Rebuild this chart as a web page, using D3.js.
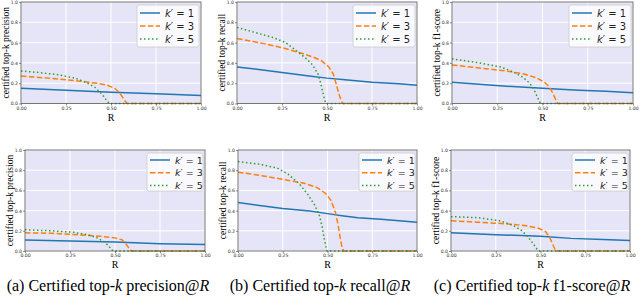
<!DOCTYPE html>
<html>
<head>
<meta charset="utf-8">
<script src="https://d3js.org/d3.v7.min.js"></script>
<style>
  body { margin: 0; background: #fff; }
  svg { display: block; }
  .serif { font-family: "Liberation Serif", "DejaVu Serif", serif; }
  .sans { font-family: "DejaVu Sans", sans-serif; }
</style>
</head>
<body>
<svg id="chart" width="640" height="296"></svg>
<script>
// tick labels
var xTicks = [0, 0.25, 0.5, 0.75, 1.0]
var yTicks = [0, 0.2, 0.4, 0.6, 0.8, 1.0]
var legendLabels = ["1", "3", "5"]
var captions = [["(a) Certified top-", "k", " precision@", "R"],
                ["(b) Certified top-", "k", " recall@", "R"],
                ["(c) Certified top-", "k", " f1-score@", "R"]]
var yLabels = ["certified top-k precision", "certified top-k recall", "certified top-k f1-score"]

// top row : [R, value]
var precTop1 = [[0,0.15],[0.25,0.13],[0.5,0.11],[0.75,0.095],[1,0.078]]
var precTop3 = [[0,0.27],[0.15,0.25],[0.3,0.225],[0.42,0.2],[0.48,0.18],[0.52,0.15],[0.545,0.11],[0.565,0.06],[0.58,0.02],[0.59,0],[1,0]]
var precTop5 = [[0,0.32],[0.1,0.305],[0.2,0.285],[0.3,0.25],[0.36,0.21],[0.41,0.16],[0.44,0.11],[0.46,0.07],[0.475,0.03],[0.49,0],[1,0]]

var recTop1 = [[0,0.36],[0.1,0.34],[0.25,0.305],[0.4,0.27],[0.5,0.25],[0.6,0.235],[0.75,0.21],[0.9,0.195],[1,0.18]]
var recTop3 = [[0,0.64],[0.15,0.59],[0.25,0.55],[0.35,0.5],[0.42,0.46],[0.47,0.42],[0.51,0.36],[0.535,0.29],[0.55,0.2],[0.565,0.1],[0.58,0.02],[0.587,0],[1,0]]
var recTop5 = [[0,0.75],[0.1,0.7],[0.2,0.65],[0.27,0.6],[0.33,0.52],[0.38,0.45],[0.42,0.38],[0.45,0.29],[0.465,0.2],[0.478,0.1],[0.488,0.03],[0.495,0],[1,0]]

var f1Top1 = [[0,0.21],[0.15,0.19],[0.3,0.17],[0.5,0.15],[0.7,0.13],[0.85,0.12],[1,0.105]]
var f1Top3 = [[0,0.38],[0.15,0.35],[0.3,0.32],[0.4,0.29],[0.47,0.25],[0.51,0.21],[0.54,0.16],[0.56,0.09],[0.575,0.03],[0.585,0],[1,0]]
var f1Top5 = [[0,0.44],[0.15,0.4],[0.27,0.36],[0.34,0.31],[0.39,0.26],[0.43,0.2],[0.455,0.13],[0.47,0.07],[0.483,0.02],[0.49,0],[1,0]]

// bottom row : [R, value]
var precBot1 = [[0,0.11],[0.25,0.1],[0.5,0.088],[0.75,0.072],[1,0.065]]
var precBot3 = [[0,0.18],[0.15,0.175],[0.3,0.16],[0.42,0.145],[0.5,0.13],[0.54,0.11],[0.565,0.06],[0.58,0.02],[0.59,0],[1,0]]
var precBot5 = [[0,0.21],[0.15,0.2],[0.27,0.185],[0.35,0.16],[0.4,0.13],[0.44,0.09],[0.465,0.05],[0.48,0.015],[0.49,0],[1,0]]

var recBot1 = [[0,0.48],[0.12,0.45],[0.25,0.42],[0.4,0.395],[0.5,0.37],[0.58,0.35],[0.67,0.33],[0.8,0.315],[1,0.285]]
var recBot3 = [[0,0.78],[0.1,0.755],[0.25,0.71],[0.37,0.67],[0.44,0.63],[0.49,0.57],[0.52,0.5],[0.545,0.38],[0.56,0.25],[0.572,0.12],[0.582,0.03],[0.59,0],[1,0]]
var recBot5 = [[0,0.885],[0.12,0.86],[0.22,0.82],[0.28,0.76],[0.34,0.67],[0.39,0.56],[0.43,0.45],[0.455,0.35],[0.47,0.24],[0.482,0.12],[0.492,0.04],[0.498,0],[1,0]]

var f1Bot1 = [[0,0.18],[0.25,0.162],[0.5,0.145],[0.67,0.125],[0.85,0.115],[1,0.105]]
var f1Bot3 = [[0,0.3],[0.15,0.285],[0.3,0.27],[0.42,0.25],[0.49,0.225],[0.53,0.19],[0.555,0.12],[0.572,0.05],[0.585,0],[1,0]]
var f1Bot5 = [[0,0.34],[0.15,0.33],[0.27,0.3],[0.34,0.26],[0.39,0.21],[0.43,0.14],[0.46,0.07],[0.48,0.02],[0.49,0],[1,0]]

var panels = [
  {l:21,  r:201, t:2,   b:103.5, y:0, s:[precTop1, precTop3, precTop5]},
  {l:237, r:417, t:2,   b:103.5, y:1, s:[recTop1, recTop3, recTop5]},
  {l:452, r:633, t:2,   b:103.5, y:2, s:[f1Top1, f1Top3, f1Top5]},
  {l:25,  r:205, t:150, b:251,   y:0, s:[precBot1, precBot3, precBot5]},
  {l:238, r:417, t:150, b:251,   y:1, s:[recBot1, recBot3, recBot5]},
  {l:451, r:630, t:150, b:251,   y:2, s:[f1Bot1, f1Bot3, f1Bot5]}
]

var colors = ["#1f77b4", "#ff7f0e", "#2ca02c"]
var dashes = [null, "5.5,2.4", "1.5,2.5"]

var svg = d3.select("#chart")

panels.forEach(function(p, i) {
  var x = d3.scaleLinear().domain([0, 1]).range([p.l, p.r])
  var y = d3.scaleLinear().domain([0, 1]).range([p.b, p.t])
  var g = svg.append("g")

  g.append("rect")
    .attr("x", p.l).attr("y", p.t)
    .attr("width", p.r - p.l).attr("height", p.b - p.t)
    .attr("fill", "#e5e5f7")

  // grid
  g.selectAll(".gx").data(xTicks).enter().append("line")
    .attr("x1", d => x(d)).attr("x2", d => x(d))
    .attr("y1", p.t).attr("y2", p.b)
    .attr("stroke", "#fff").attr("stroke-width", 1)
  g.selectAll(".gy").data(yTicks).enter().append("line")
    .attr("y1", d => y(d)).attr("y2", d => y(d))
    .attr("x1", p.l).attr("x2", p.r)
    .attr("stroke", "#fff").attr("stroke-width", 1)

  var line = d3.line().x(d => x(d[0])).y(d => y(d[1]))
  p.s.forEach(function(ser, j) {
    g.append("path")
      .attr("d", line(ser))
      .attr("fill", "none")
      .attr("stroke", colors[j])
      .attr("stroke-width", 1.5)
      .attr("stroke-dasharray", dashes[j])
  })

  // axes
  var xa = g.append("g").attr("transform", "translate(0," + p.b + ")")
    .call(d3.axisBottom(x).tickValues(xTicks).tickFormat(d3.format(".2f")).tickSize(2).tickPadding(1))
  var ya = g.append("g").attr("transform", "translate(" + p.l + ",0)")
    .call(d3.axisLeft(y).tickValues(yTicks).tickFormat(d3.format(".1f")).tickSize(2).tickPadding(1))
  ;[xa, ya].forEach(function(a) {
    a.select(".domain").remove()
    a.attr("font-family", null).attr("font-size", null)
    a.selectAll("line").attr("stroke", "#444").attr("stroke-width", 0.6)
    a.selectAll("text").attr("fill", "#333").attr("class", "sans")
      .style("font-size", "4.6px")
  })

  g.append("rect")
    .attr("x", p.l).attr("y", p.t)
    .attr("width", p.r - p.l).attr("height", p.b - p.t)
    .attr("fill", "none").attr("stroke", "#555").attr("stroke-width", 0.8)

  // axis labels
  g.append("text")
    .attr("class", "serif")
    .attr("x", (p.l + p.r) / 2).attr("y", p.b + 17)
    .attr("text-anchor", "middle")
    .style("font-size", "10px")
    .text("R")
  g.append("text")
    .attr("class", "serif")
    .attr("transform", "translate(" + (p.l - 12) + "," + ((p.t + p.b) / 2) + ") rotate(-90)")
    .attr("text-anchor", "middle")
    .style("font-size", "9.5px")
    .text(yLabels[p.y])

  // legend
  var top = i < 3
  var lw = top ? 62 : 56, lh = top ? 42 : 38
  var lx = p.r - lw - 2, ly = p.t + 3
  var lg = g.append("g")
  lg.append("rect")
    .attr("x", lx).attr("y", ly).attr("width", lw).attr("height", lh)
    .attr("rx", 2).attr("fill", "#fff").attr("fill-opacity", 0.8)
    .attr("stroke", "#ccc").attr("stroke-width", 0.8)
  legendLabels.forEach(function(lab, j) {
    var yy = ly + (top ? 8 : 7) + j * (top ? 13 : 12.7)
    lg.append("line")
      .attr("x1", lx + 3).attr("x2", lx + 23)
      .attr("y1", yy).attr("y2", yy)
      .attr("stroke", colors[j]).attr("stroke-width", 1.5)
      .attr("stroke-dasharray", dashes[j])
    var t = lg.append("text")
      .attr("class", "sans")
      .attr("x", lx + 28).attr("y", yy + 3.5)
      .style("font-size", top ? "10px" : "9.5px")
      .attr("fill", "#222")
    t.append("tspan").style("font-style", "italic").text("k")
    t.append("tspan").text("\u2032 = " + lab)
  })
})

// captions
var capX = [108, 320, 532]
captions.forEach(function(c, i) {
  var t = svg.append("text")
    .attr("class", "serif")
    .attr("x", capX[i]).attr("y", 291)
    .attr("text-anchor", "middle")
    .style("font-size", "16px")
  c.forEach(function(part, j) {
    var s = t.append("tspan").text(part)
    if (j % 2 == 1) s.style("font-style", "italic")
  })
})
</script>
</body>
</html>
